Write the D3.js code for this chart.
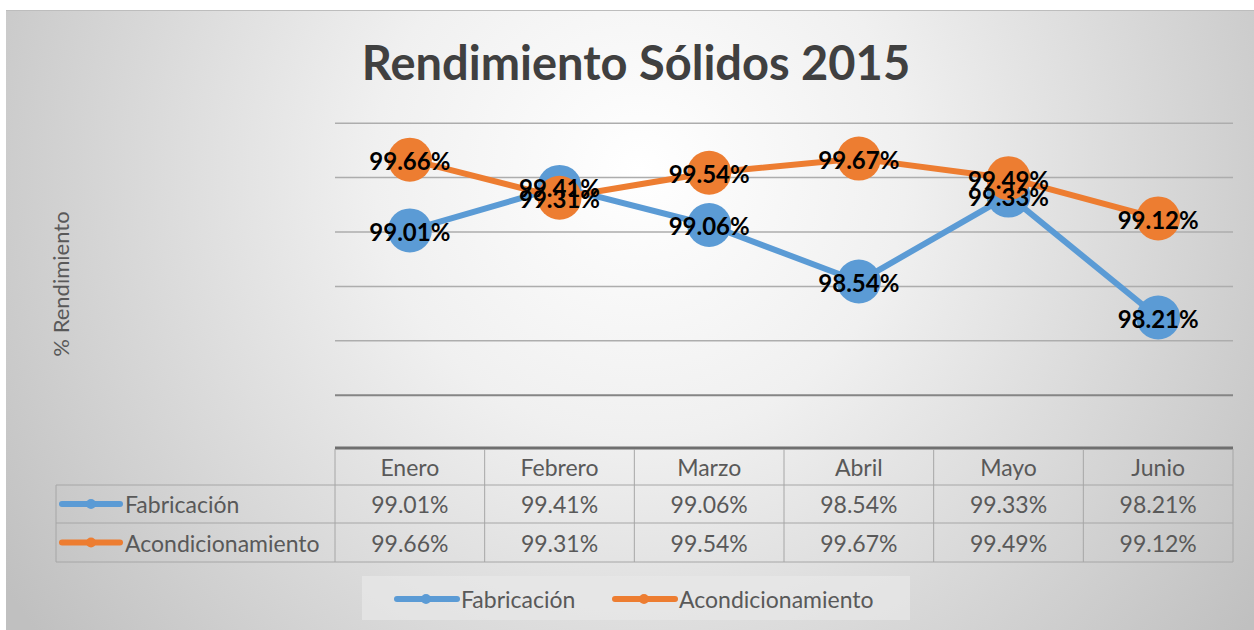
<!DOCTYPE html>
<html lang="es">
<head>
<meta charset="UTF-8">
<title>Rendimiento Sólidos 2015</title>
<script src="https://d3js.org/d3.v7.min.js"></script>
<style>
  body { margin: 0; background: #fff; }
  svg text { font-family: Lato, "Open Sans", sans-serif; }
  .grid path { display: none; }
  .cell { fill: #595959; font-size: 23px; text-anchor: middle; dominant-baseline: central; }
  .lbl { fill: #000; font-size: 24px; font-weight: bold; text-anchor: middle; dominant-baseline: central; }
</style>
</head>
<body>
<script>
// datos
const months = ["Enero", "Febrero", "Marzo", "Abril", "Mayo", "Junio"];
const fabricacion = [99.01, 99.41, 99.06, 98.54, 99.33, 98.21];
const acondicionamiento = [99.66, 99.31, 99.54, 99.67, 99.49, 99.12];
const seriesNames = ["Fabricación", "Acondicionamiento"];
const colors = ["#5b9bd5", "#ed7d31"];
const yTicks = [97.5, 98, 98.5, 99, 99.5, 100];

const W = 1254, H = 630;
const plotL = 335, plotR = 1233, plotT = 122.7, plotB = 394.7;

const svg = d3.select("body").append("svg")
  .attr("width", W).attr("height", H);

// fondo con degradado radial
const grad = svg.append("defs").append("radialGradient")
  .attr("id", "bg").attr("gradientUnits", "userSpaceOnUse")
  .attr("cx", 640).attr("cy", 170).attr("r", 760);
grad.append("stop").attr("offset", "0").attr("stop-color", "#ffffff");
grad.append("stop").attr("offset", "0.35").attr("stop-color", "#f0f0f0");
grad.append("stop").attr("offset", "1").attr("stop-color", "#c0c0c0");

svg.append("rect").attr("x", 6).attr("y", 10).attr("width", W - 6).attr("height", H - 10)
  .attr("fill", "url(#bg)");
svg.append("line").attr("x1", 6).attr("x2", W).attr("y1", 10.5).attr("y2", 10.5)
  .attr("stroke", "#bdbdbd").attr("stroke-width", 1);

// titulo
svg.append("text").text("Rendimiento Sólidos 2015")
  .attr("x", 636).attr("y", 62)
  .attr("text-anchor", "middle").attr("dominant-baseline", "central")
  .attr("font-size", 47).attr("font-weight", "bold").attr("fill", "#404040");

// titulo del eje
svg.append("text").text("% Rendimiento")
  .attr("transform", "translate(60,284) rotate(-90)")
  .attr("text-anchor", "middle").attr("dominant-baseline", "central")
  .attr("font-size", 22).attr("fill", "#595959");

const x = d3.scaleBand().domain(months).range([plotL, plotR]);
const y = d3.scaleLinear().domain([97.5, 100]).range([plotB, plotT]);

// lineas de division
svg.append("g").attr("class", "grid")
  .attr("transform", "translate(" + plotL + ",0)")
  .call(d3.axisLeft(y).tickValues(yTicks).tickSize(-(plotR - plotL)).tickFormat(""))
  .selectAll("line")
  .attr("stroke", d => d === 97.5 ? "#858585" : "#adadad")
  .attr("stroke-width", d => d === 97.5 ? 2 : 1.5);

// series
const allSeries = [fabricacion, acondicionamiento];
const line = d3.line().x((d, i) => x(months[i]) + x.bandwidth() / 2).y(d => y(d));

allSeries.forEach((vals, s) => {
  const g = svg.append("g");
  g.append("path").datum(vals)
    .attr("d", line).attr("fill", "none")
    .attr("stroke", colors[s]).attr("stroke-width", 6).attr("stroke-linejoin", "round");
  g.selectAll("circle").data(vals).enter().append("circle")
    .attr("cx", (d, i) => x(months[i]) + x.bandwidth() / 2)
    .attr("cy", d => y(d))
    .attr("r", 22)
    .attr("fill", colors[s]);
});

allSeries.forEach((vals) => {
  svg.append("g").selectAll("text").data(vals).enter().append("text")
    .attr("class", "lbl")
    .attr("x", (d, i) => x(months[i]) + x.bandwidth() / 2)
    .attr("y", d => y(d) + 1)
    .text(d => d.toFixed(2) + "%");
});

// tabla de datos
const rowY = [449, 485, 523, 562];
const tbl = svg.append("g");
const gridColor = "#a6a6a6";

tbl.append("line").attr("x1", plotL).attr("x2", plotR).attr("y1", 448).attr("y2", 448)
  .attr("stroke", "#6f6f6f").attr("stroke-width", 3);
[485, 523, 562].forEach(yy => {
  tbl.append("line").attr("x1", 56).attr("x2", plotR).attr("y1", yy).attr("y2", yy)
    .attr("stroke", gridColor).attr("stroke-width", 1);
});
tbl.append("line").attr("x1", 56).attr("x2", 56).attr("y1", 485).attr("y2", 562)
  .attr("stroke", gridColor);
months.concat(["_end"]).forEach((m) => {
  const xx = m === "_end" ? plotR : x(m);
  tbl.append("line").attr("x1", xx).attr("x2", xx).attr("y1", 449).attr("y2", 562)
    .attr("stroke", gridColor);
});

tbl.selectAll(".hdr").data(months).enter().append("text")
  .attr("class", "cell")
  .attr("x", d => x(d) + x.bandwidth() / 2)
  .attr("y", (rowY[0] + rowY[1]) / 2)
  .text(d => d);

allSeries.forEach((vals, s) => {
  const cy = (rowY[s + 1] + rowY[s + 2]) / 2;
  tbl.selectAll(".r" + s).data(vals).enter().append("text")
    .attr("class", "cell")
    .attr("x", (d, i) => x(months[i]) + x.bandwidth() / 2)
    .attr("y", cy)
    .text(d => d.toFixed(2) + "%");
  // clave
  tbl.append("line").attr("x1", 62).attr("x2", 120).attr("y1", cy).attr("y2", cy)
    .attr("stroke", colors[s]).attr("stroke-width", 6).attr("stroke-linecap", "round");
  tbl.append("circle").attr("cx", 91).attr("cy", cy).attr("r", 5).attr("fill", colors[s]);
  tbl.append("text").attr("class", "cell").style("text-anchor", "start")
    .attr("x", 125).attr("y", cy).text(seriesNames[s]);
});

// leyenda
const leg = svg.append("g");
leg.append("rect").attr("x", 362).attr("y", 576).attr("width", 548).attr("height", 44)
  .attr("fill", "#e8e8e8").attr("opacity", 0.7);
const legX = [397, 615];
seriesNames.forEach((n, s) => {
  const lx = legX[s], ly = 599;
  leg.append("line").attr("x1", lx).attr("x2", lx + 60).attr("y1", ly).attr("y2", ly)
    .attr("stroke", colors[s]).attr("stroke-width", 6).attr("stroke-linecap", "round");
  leg.append("circle").attr("cx", lx + 29).attr("cy", ly).attr("r", 5).attr("fill", colors[s]);
  leg.append("text").attr("class", "cell").style("text-anchor", "start")
    .attr("x", lx + 64).attr("y", ly).text(n);
});
</script>
</body>
</html>
